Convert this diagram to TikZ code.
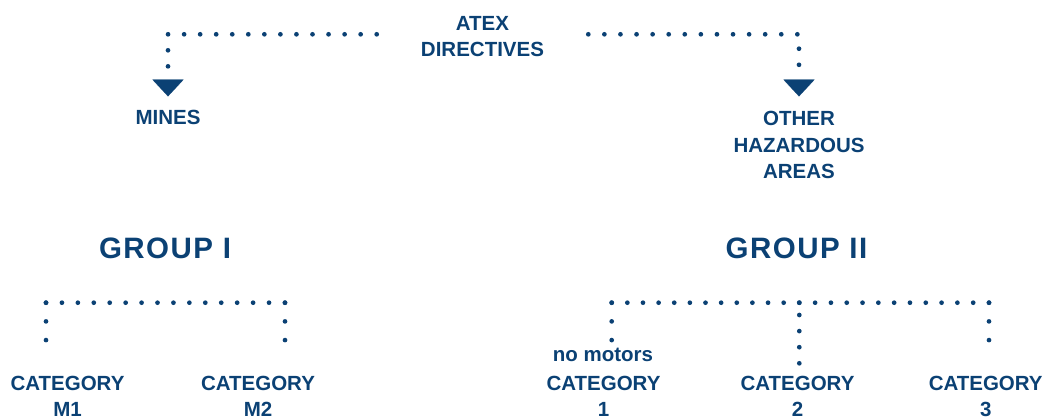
\documentclass[tikz,border=0pt]{standalone}
\usepackage{fontspec}
\setmainfont{Liberation Sans}
\newfontfamily\bigfont{Liberation Sans}[LetterSpace=5]
\usetikzlibrary{arrows.meta}
\definecolor{atexblue}{HTML}{0B4174}
\begin{document}
\begin{tikzpicture}[x=1pt,y=-1pt,
  txt/.style={inner sep=0pt, outer sep=0pt, text=atexblue,
    font=\bfseries\fontsize{20.5}{26.5}\selectfont, align=center, anchor=base},
  cat/.style={txt, font=\bfseries\fontsize{20.5}{25}\selectfont},
  big/.style={txt, font=\bigfont\bfseries\fontsize{29.5}{34}\selectfont},
  dotline/.style={draw=atexblue, line width=4.7pt, line cap=round, dash pattern=on 0pt off #1},
  tiptri/.style={-{Triangle[width=31pt,length=16.7pt,line width=0.1pt]}}
]
\useasboundingbox (0,0) rectangle (1052,419);

% texts (base anchor = baseline of the last line)
\node[txt] (atex)  at (482.5,56.7) {ATEX\\DIRECTIVES};
\node[txt] (mines) at (168,125)    {MINES};
\node[txt] (other) at (799,179)    {OTHER\\HAZARDOUS\\AREAS};
\node[big] (g1)    at (165,258.5)  {GROUP I};
\node[big] (g2)    at (796.5,259)  {GROUP II};
\node[cat] (cm1)   at (67.5,416)   {CATEGORY\\M1};
\node[cat] (cm2)   at (258,416)    {CATEGORY\\M2};
\node[txt] (nomot) at (603,361.5)  {no motors};
\node[cat] (c1)    at (603.5,416)  {CATEGORY\\1};
\node[cat] (c2)    at (797.5,416)  {CATEGORY\\2};
\node[cat] (c3)    at (985.7,416)  {CATEGORY\\3};

% top connectors
\coordinate (aL) at (376.7,34.3);
\coordinate (aR) at (588.3,34.3);
\draw[dotline=16.05pt, tiptri, shorten >=14.3pt] (aL) -| (mines.north);
\draw[dotline=16.08pt, tiptri, shorten >=15.3pt] (aR) -| (other.north);

% group I bracket
\coordinate (b1L) at (46,302.7);
\coordinate (b1R) at (285,302.7);
\draw[dotline=15.93pt] (b1L) -- (b1R);
\draw[dotline=18.7pt] (b1L) -- ++(0,38.5);
\draw[dotline=18.7pt] (b1R) -- ++(0,38.5);

% group II bracket
\coordinate (b2L) at (611.7,302.7);
\coordinate (b2M) at (799.3,302.7);
\coordinate (b2R) at (989,302.7);
\coordinate (b2Mv) at (799.3,315);
\draw[dotline=15.633pt] (b2M) -- (b2L);
\draw[dotline=15.808pt] (b2M) -- (b2R);
\draw[dotline=18.7pt] (b2L) -- ++(0,38.5);
\draw[dotline=18.7pt] (b2R) -- ++(0,38.5);
\draw[dotline=16.1pt] (b2Mv) -- ++(0,49);
\end{tikzpicture}
\end{document}
